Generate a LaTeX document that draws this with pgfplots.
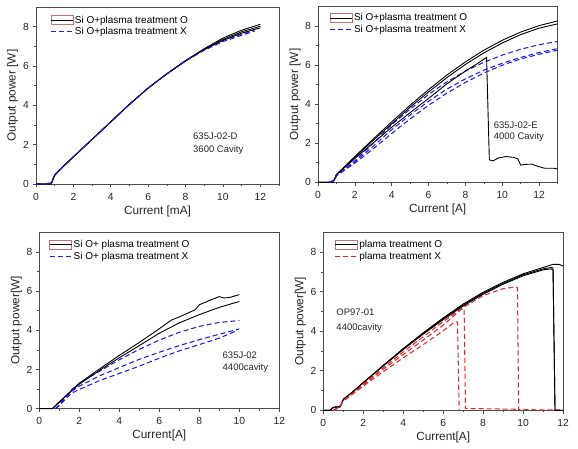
\documentclass[border=0pt]{standalone}
\usepackage{fontspec}
\setmainfont{Liberation Sans}
\usepackage{pgfplots}
\pgfplotsset{compat=1.18}
\definecolor{boxred}{RGB}{205,110,110}
\definecolor{myblue}{RGB}{30,30,235}
\definecolor{myred}{RGB}{228,40,40}
\pgfplotsset{
 panel/.style={
  scale only axis, anchor=south west,
  axis line style={black!70, line width=0.6pt},
  tick pos=left, tick align=outside,
  major tick length=3.5pt, minor tick length=2pt,
  every tick/.style={black!70, line width=0.6pt},
  minor x tick num=1, minor y tick num=1,
  ymin=0, ymax=9, ytick={0,2,4,6,8},
  xtick distance=2,
  /pgf/number format/assume math mode=true,
  ticklabel style={font=\fontsize{10.3}{12}\selectfont, text=black!85},
  xticklabel style={yshift=-2pt},
  label style={font=\fontsize{11.8}{13}\selectfont, text=black!85},
  xlabel style={at={(axis description cs:0.5,-0.153)}, anchor=center},
  ylabel style={at={(axis description cs:-0.096,0.5)}, anchor=center},
  legend style={draw=none, fill=none, anchor=north west, font=\fontsize{10}{12}\selectfont, row sep=0pt, inner sep=0pt, nodes={inner sep=1.5pt}},
  legend cell align=left,
  clip=false,
 },
 boxleg/.style={legend image code/.code={\draw[draw=boxred, line width=0.5pt, solid] (0pt,-4.5pt) rectangle (22pt,4.5pt); \draw[black, line width=0.9pt, solid] (0pt,0pt) -- (22pt,0pt);}},
 blueleg/.style={legend image code/.code={\draw[myblue, line width=1.05pt, dash pattern=on 5pt off 3pt] (0pt,0pt) -- (22pt,0pt);}},
 redleg/.style={legend image code/.code={\draw[myred, line width=1.05pt, dash pattern=on 5pt off 3pt] (0pt,0pt) -- (22pt,0pt);}},
 blk/.style={black, line width=0.9pt},
 bdash/.style={myblue, line width=1.05pt, dash pattern=on 5pt off 3pt},
 rdash/.style={myred, line width=1.05pt, dash pattern=on 5pt off 3pt},
}
\begin{document}
\begin{tikzpicture}
\useasboundingbox (0,0) rectangle (578pt,449pt);
% ---------------- Panel 1
\begin{axis}[panel, at={(36pt,265pt)}, width=243pt, height=177pt, xmin=0, xmax=13,
  xlabel={Current [mA]}, ylabel={Output power [W]},
  legend style={at={(axis description cs:0.058,0.96)}}]
\addplot[blk, boxleg] coordinates {(0,0)(0.8,0)(0.85,0.1)(1.0,0.45)(1.2,0.65)(1.5,0.93)(2,1.38)(3,2.27)(4,3.16)(5,4.05)(6,4.88)(7,5.6)(8,6.28)(9,6.88)(10,7.42)(11,7.82)(12,8.12)};
\addlegendentry{Si O+plasma treatment O}
\addplot[bdash, blueleg] coordinates {(0,0)(0.8,0)(0.85,0.1)(1.0,0.45)(1.2,0.65)(1.5,0.93)(2,1.38)(3,2.27)(4,3.16)(5,4.05)(6,4.88)(7,5.6)(8,6.28)(9,6.84)(10,7.3)(11,7.62)(11.7,7.84)};
\addlegendentry{Si O+plasma treatment X}
\addplot[blk, forget plot] coordinates {(0,0)(0.6,0)(0.65,0.05)(0.8,0.05)(0.85,0.1)(1.0,0.45)(1.2,0.65)(1.5,0.93)(2,1.38)(3,2.27)(4,3.16)(5,4.05)(6,4.88)(7,5.6)(8,6.26)(9,6.85)(10,7.35)(11,7.74)(12,8.02)};
\addplot[blk, forget plot] coordinates {(0,0)(0.8,0)(0.85,0.1)(1.0,0.45)(1.2,0.65)(1.5,0.93)(2,1.38)(3,2.27)(4,3.16)(5,4.05)(6,4.88)(7,5.6)(8,6.25)(9,6.83)(10,7.3)(11,7.67)(12,7.94)};
\addplot[bdash, forget plot] coordinates {(0,0)(0.8,0)(0.85,0.1)(1.0,0.45)(1.2,0.65)(1.5,0.93)(2,1.38)(3,2.27)(4,3.16)(5,4.05)(6,4.88)(7,5.6)(8,6.26)(9,6.8)(10,7.24)(11,7.56)(11.7,7.78)};
\node[anchor=west, align=left, inner sep=0pt, font=\fontsize{9.5}{13}\selectfont, text=black!85] at (axis cs:8.4,2.05) {635J-02-D\\3600 Cavity};
\end{axis}
% ---------------- Panel 2
\begin{axis}[panel, at={(318pt,266.7pt)}, width=239.5pt, height=175.6pt, xmin=0, xmax=13,
  xlabel={Current [A]}, ylabel={Output power [W]},
  legend style={at={(axis description cs:0.047,0.97)}}]
\addplot[blk, boxleg] coordinates {(0,0)(0.8,0)(0.9,0.15)(1.0,0.4)(1.5,0.85)(2,1.32)(3,2.22)(4,3.1)(5,3.95)(6,4.75)(7,5.5)(8,6.17)(9,6.77)(10,7.28)(11,7.7)(12,8.03)(13,8.27)};
\addlegendentry{Si O+plasma treatment O}
\addplot[bdash, blueleg] coordinates {(0.6,0)(0.9,0.1)(1,0.35)(1.5,0.72)(2,1.1)(3,2.0)(4,2.95)(5,3.75)(6,4.5)(7,5.15)(8,5.7)(9,6.15)(10,6.52)(11,6.82)(12,7.05)(13,7.22)};
\addlegendentry{Si O+plasma treatment X}
\addplot[blk, forget plot] coordinates {(0,0)(0.8,0)(0.9,0.15)(1.0,0.4)(1.5,0.83)(2,1.28)(3,2.15)(4,3.0)(5,3.85)(6,4.63)(7,5.37)(8,6.04)(9,6.63)(10,7.14)(11,7.57)(12,7.9)(13,8.12)};
\addplot[blk, forget plot] coordinates {(0,0)(0.8,0)(0.9,0.15)(1.0,0.4)(1.5,0.8)(2,1.22)(3,2.02)(4,2.82)(5,3.57)(6,4.3)(7,5.05)(8,5.7)(8.6,6.05)(9.15,6.4)(9.3,1.15)(9.5,1.1)(9.8,1.25)(10.2,1.32)(10.6,1.28)(10.85,1.2)(11.0,0.88)(11.3,0.92)(11.6,0.93)(12.0,0.8)(12.3,0.72)(12.8,0.72)(13,0.68)};
\addplot[bdash, forget plot] coordinates {(0.6,0)(0.9,0.1)(1,0.35)(1.5,0.7)(2,1.05)(3,1.85)(4,2.7)(5,3.45)(6,4.15)(7,4.78)(8,5.3)(9,5.75)(10,6.1)(11,6.4)(12,6.65)(13,6.85)};
\addplot[bdash, forget plot] coordinates {(0.6,0)(0.9,0.1)(1,0.33)(1.5,0.66)(2,0.98)(3,1.72)(4,2.5)(5,3.25)(6,3.95)(7,4.57)(8,5.12)(9,5.6)(10,6.0)(11,6.32)(12,6.56)(13,6.77)};
\node[anchor=west, align=left, inner sep=0pt, font=\fontsize{9.5}{11}\selectfont, text=black!85] at (axis cs:9.53,2.62) {635J-02-E\\4000 Cavity};
\end{axis}
% ---------------- Panel 3
\begin{axis}[panel, at={(39.3pt,40.3pt)}, width=240pt, height=176.4pt, xmin=0, xmax=12,
  xlabel={Current[A]}, ylabel={Output power[W]},
  legend style={at={(axis description cs:0.04,0.965)}}]
\addplot[blk, boxleg] coordinates {(0,0)(0.65,0)(1,0.35)(1.5,0.82)(2,1.3)(3,2.02)(4,2.72)(5,3.38)(6,4.08)(6.6,4.52)(7,4.68)(7.8,5.05)(8,5.3)(8.5,5.52)(9,5.72)(9.2,5.65)(9.5,5.67)(10,5.82)};
\addlegendentry{Si O+ plasma treatment O}
\addplot[bdash, blueleg] coordinates {(0.8,0)(1.0,0.2)(1.6,0.96)(2,1.3)(3,1.9)(4,2.5)(5,3.03)(6,3.5)(7,3.9)(8,4.2)(9,4.4)(10,4.5)};
\addlegendentry{Si O+ plasma treatment X}
\addplot[blk, forget plot] coordinates {(0.65,0)(1,0.33)(1.5,0.8)(2,1.25)(3,1.95)(4,2.6)(5,3.22)(6,3.85)(7,4.38)(8,4.8)(9,5.17)(10,5.47)};
\addplot[bdash, forget plot] coordinates {(0.8,0)(1,0.18)(1.6,0.88)(2,1.15)(3,1.67)(4,2.1)(5,2.52)(6,2.88)(7,3.22)(8,3.52)(9,3.8)(10,4.07)};
\addplot[bdash, forget plot] coordinates {(0.8,0)(1,0.15)(1.6,0.79)(2,0.98)(3,1.43)(4,1.8)(5,2.17)(6,2.58)(7,2.95)(8,3.27)(9,3.6)(9.8,3.95)};
\node[anchor=west, align=left, inner sep=0pt, font=\fontsize{9.5}{12.3}\selectfont, text=black!85] at (axis cs:9.16,2.36) {635J-02\\4400cavity};
\end{axis}
% ---------------- Panel 4
\begin{axis}[panel, at={(323.3pt,38.7pt)}, width=239.7pt, height=178pt, xmin=0, xmax=12,
  xlabel={Current[A]}, ylabel={Output power[W]},
  legend style={at={(axis description cs:0.047,0.965)}}]
\addplot[blk, boxleg] coordinates {(0,0)(0.35,0)(0.5,0.15)(0.85,0.18)(1.0,0.55)(1.5,0.95)(2,1.4)(3,2.27)(4,3.12)(5,3.92)(6,4.67)(7,5.37)(8,5.97)(9,6.47)(10,6.9)(11,7.22)(11.5,7.38)(11.8,7.38)(12,7.3)};
\addlegendentry{plama treatment O}
\addplot[rdash, redleg] coordinates {(0.5,0)(0.8,0.15)(1,0.5)(2,1.32)(3,2.15)(4,2.95)(5,3.72)(6,4.48)(7,5.2)(8,5.8)(9,6.15)(9.6,6.23)(9.72,6.2)(9.78,0.03)(12,0.02)};
\addlegendentry{plama treatment X}
\addplot[blk, forget plot] coordinates {(0,0)(0.35,0)(0.5,0.15)(0.85,0.18)(1.0,0.55)(1.5,0.95)(2,1.4)(3,2.26)(4,3.1)(5,3.89)(6,4.63)(7,5.32)(8,5.92)(9,6.42)(10,6.85)(11,7.15)(11.4,7.22)(11.5,7.2)(11.6,0)(12,0)};
\addplot[blk, forget plot] coordinates {(0,0)(0.35,0)(0.5,0.15)(0.85,0.18)(1.0,0.55)(1.5,0.95)(2,1.39)(3,2.24)(4,3.07)(5,3.85)(6,4.58)(7,5.27)(8,5.87)(9,6.37)(10,6.8)(11,7.1)(11.4,7.15)(11.5,7.1)(11.6,0)(12,0)};
\addplot[rdash, forget plot] coordinates {(0.5,0)(0.8,0.15)(1,0.48)(2,1.28)(3,2.07)(4,2.82)(5,3.55)(6,4.3)(6.9,5.1)(7.05,5.15)(7.12,0.08)(8,0.08)(9.8,0.05)};
\addplot[rdash, forget plot] coordinates {(0.5,0)(0.8,0.15)(1,0.46)(2,1.22)(3,1.95)(4,2.65)(5,3.32)(6,4.02)(6.6,4.48)(6.72,4.45)(6.8,0)};
\node[anchor=west, align=left, inner sep=0pt, font=\fontsize{9.5}{14.7}\selectfont, text=black!85] at (axis cs:0.65,4.53) {OP97-01\\4400cavity};
\end{axis}
\end{tikzpicture}
\end{document}
